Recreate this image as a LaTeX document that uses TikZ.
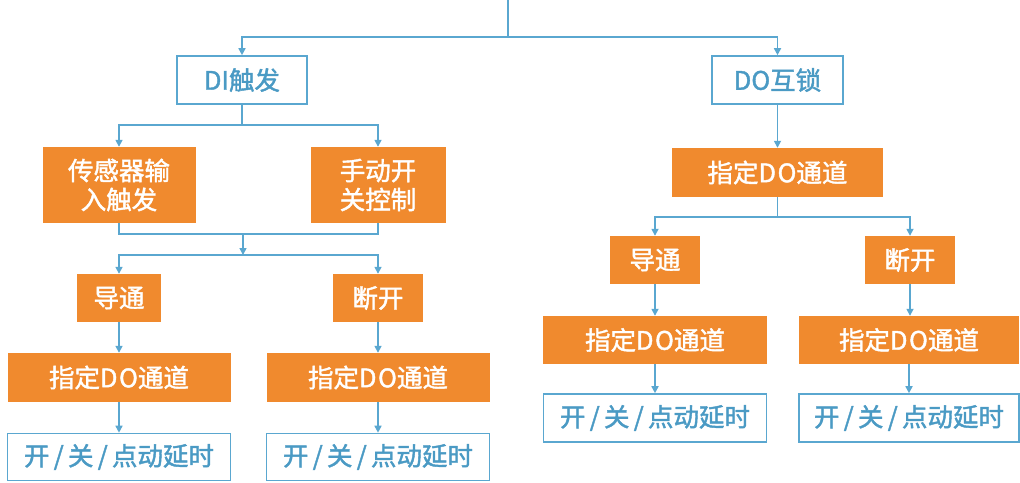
\documentclass[tikz,border=0pt]{standalone}
\usepackage{fontspec}
\setmainfont{Noto Sans CJK SC}[FakeBold=1.6]
\usetikzlibrary{arrows.meta}
\definecolor{org}{HTML}{F08A2E}
\definecolor{lblue}{HTML}{5AA7D0}
\definecolor{tblue}{HTML}{4A9AC4}
\newcommand{\DOtext}{D\kern1.5pt O}
\tikzset{
  obox/.style={fill=org, draw=none, text=white, font=\fontsize{25.5}{29}\selectfont, inner sep=0pt, align=center},
  wbox/.style={fill=white, draw=lblue, line width=1.6pt, text=tblue, font=\fontsize{25.5}{29}\selectfont, inner sep=0pt, align=center},
  link/.style={draw=lblue, line width=1.6pt},
  arr/.style={link, -{Triangle[length=7pt,width=7pt]}}
}
\begin{document}
\begin{tikzpicture}[x=1pt,y=-1pt]
\useasboundingbox (0,0) rectangle (1020,482);
% left branch
\node[wbox, minimum width=130pt, minimum height=48pt] (di) at (242,80) {DI触发};
\node[obox, minimum width=153pt, minimum height=76pt] (s1) at (119,185) {传感器输\\入触发};
\node[obox, minimum width=135pt, minimum height=76pt] (s2) at (378,185) {手动开\\关控制};
\node[obox, minimum width=84pt, minimum height=48pt] (dt1) at (119,298) {导通};
\node[obox, minimum width=90pt, minimum height=48pt] (dk1) at (378,298) {断开};
\node[obox, minimum width=223pt, minimum height=49pt] (c1) at (119,377.5) {指定\DOtext 通道};
\node[obox, minimum width=223pt, minimum height=49pt] (c2) at (378,377.5) {指定\DOtext 通道};
\node[wbox, minimum width=223pt, minimum height=47pt] (o1) at (119,457) {开\,/\,关\,/\,点动延时};
\node[wbox, minimum width=223pt, minimum height=47pt] (o2) at (378,457) {开\,/\,关\,/\,点动延时};
% right branch
\node[wbox, minimum width=131pt, minimum height=48pt] (do) at (777.5,80) {DO互锁};
\node[obox, minimum width=211pt, minimum height=49pt] (rc) at (777.5,172.5) {指定\DOtext 通道};
\node[obox, minimum width=90pt, minimum height=48pt] (rdt) at (655,260) {导通};
\node[obox, minimum width=90pt, minimum height=48pt] (rdk) at (910,260) {断开};
\node[obox, minimum width=224pt, minimum height=48pt] (rc1) at (655,340) {指定\DOtext 通道};
\node[obox, minimum width=220pt, minimum height=48pt] (rc2) at (909,340) {指定\DOtext 通道};
\node[wbox, minimum width=223pt, minimum height=48pt] (ro1) at (655,418) {开\,/\,关\,/\,点动延时};
\node[wbox, minimum width=220pt, minimum height=48pt] (ro2) at (909,418) {开\,/\,关\,/\,点动延时};
% junctions
\coordinate (top) at (508,0);
\coordinate (j0) at (508,37);
\coordinate (j1) at (242,125);
\coordinate (j2) at (243,234);
\coordinate (j3) at (243,255);
\coordinate (j4) at (777.5,217);
% connectors
\draw[link] (top) -- (j0);
\draw[arr] (j0) -| (di);
\draw[arr] (j0) -| (do);
\draw[link] (di) -- (j1);
\draw[arr] (j1) -| (s1);
\draw[arr] (j1) -| (s2);
\draw[link] (s1) |- (j2);
\draw[link] (s2) |- (j2);
\draw[arr] (j2) -- (j3);
\draw[arr] (j3) -| (dt1);
\draw[arr] (j3) -| (dk1);
\draw[arr] (dt1) -- (c1);
\draw[arr] (dk1) -- (c2);
\draw[arr] (c1) -- (o1);
\draw[arr] (c2) -- (o2);
\draw[arr] (do) -- (rc);
\draw[link] (rc) -- (j4);
\draw[arr] (j4) -| (rdt);
\draw[arr] (j4) -| (rdk);
\draw[arr] (rdt) -- (rc1);
\draw[arr] (rdk) -- (rdk |- rc2.north);
\draw[arr] (rc1) -- (ro1);
\draw[arr] (rc2) -- (rc2 |- ro2.north);
\end{tikzpicture}
\end{document}
